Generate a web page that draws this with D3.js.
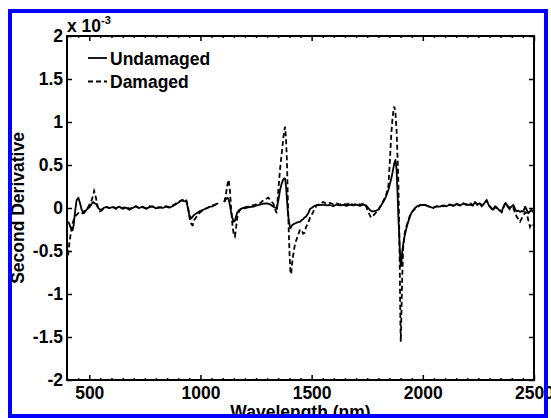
<!DOCTYPE html>
<html>
<head>
<meta charset="utf-8">
<script src="https://cdn.jsdelivr.net/npm/d3@7/dist/d3.min.js"></script>
<style>
  body { margin: 0; background: #fff; }
  svg { display: block; }
  text { font-family: "Liberation Sans", Arial, Helvetica, sans-serif; font-weight: bold; fill: #000; }
</style>
</head>
<body>
<svg id="chart" width="551" height="418"></svg>
<script>
// Second-derivative spectra (values in units of 1e-3), null marks the detector gap
const wavelength = [
  405,410,415,420,425,430,436,443,451,458,466,476,488,496,503,511,518,522,526,530,536,541,548,556,565,578,590,
  605,620,635,650,665,680,695,710,725,740,755,770,785,800,815,830,845,860,875,888,900,916,925,931,938,945,950,
  955,960,965,972,983,995,1013,1030,1043,1055,1068,1080,1093,1107,1112,1117,1122,1127,1132,1138,1144,1150,1155,
  1160,1166,1175,1190,1205,1220,1238,1253,1268,1283,1298,1305,1315,1328,1337,1343,1350,1358,1365,1372,1377,1381,
  1385,1389,1393,1397,1401,1405,1408,1412,1417,1425,1433,1440,1448,1455,1462,1468,1475,1485,1493,1500,1510,1523,
  1537,1552,1567,1582,1597,1612,1627,1642,1657,1672,1687,1702,1717,1732,1745,1755,1765,1772,1780,1790,1800,1812,
  1822,1834,1845,1852,1858,1863,1868,1872,1877,1882,1887,1890,1893,1896,1899,1901,1904,1907,1912,1918,1924,1933,
  1942,1950,1965,1975,1987,2002,2013,2030,2047,2062,2077,2092,2107,2122,2137,2152,2167,2182,2197,2212,2225,2235,
  2245,2255,2265,2275,2287,2297,2305,2315,2325,2335,2345,2355,2365,2372,2380,2392,2400,2407,2415,2422,2430,2437,
  2445,2452,2460,2467,2475,2482,2488,2495
];

const undamaged = [
  -0.16,-0.18,-0.22,-0.25,-0.26,-0.2,-0.05,0.09,0.12,0.06,-0.02,-0.06,-0.02,0.0,0.015,0.05,0.07,0.06,0.05,0.05,0.02,0.0,-0.02,-0.02,0.0,0.015,0.0,
  0.01,0.0,0.015,-0.01,0.005,-0.02,0.0,0.02,0.0,0.015,-0.01,0.01,0.02,-0.005,0.01,0.0,0.015,0.005,0.02,0.04,0.06,0.09,0.08,0.08,0.07,-0.02,-0.08,
  -0.11,-0.12,-0.1,-0.08,-0.06,-0.04,-0.02,0.0,0.015,0.02,0.04,0.055,null,0.07,0.09,0.11,0.12,0.1,0.04,-0.05,-0.12,-0.16,-0.15,
  -0.1,-0.05,-0.02,0.0,0.0,0.01,0.015,0.03,0.04,0.05,0.055,0.05,0.04,0.015,0.005,0.0,0.08,0.21,0.28,0.33,0.345,0.34,
  0.25,0.1,-0.04,-0.14,-0.2,-0.236,-0.22,-0.2,-0.19,-0.18,-0.17,-0.165,-0.16,-0.14,-0.13,-0.11,-0.1,-0.06,-0.01,0.0,0.02,0.035,
  0.035,0.04,0.03,0.035,0.02,0.04,0.03,0.035,0.025,0.04,0.03,0.04,0.025,0.04,0.03,0.0,-0.03,-0.04,-0.035,-0.03,-0.02,0.03,
  0.07,0.13,0.21,0.28,0.34,0.4,0.47,0.52,0.56,0.45,0.13,-0.1,-0.26,-0.45,-0.62,-0.68,-0.62,-0.52,-0.42,-0.33,-0.26,-0.17,
  -0.1,-0.05,0.0,0.02,0.035,0.035,0.035,0.015,0.0,0.02,0.015,0.03,0.02,0.04,0.025,0.045,0.03,0.05,0.035,0.04,0.03,0.07,
  0.04,0.055,0.03,0.05,0.09,0.03,0.01,-0.02,0.02,0.0,-0.03,-0.04,0.03,0.06,0.03,0.0,0.02,0.035,-0.01,-0.04,-0.03,-0.045,
  -0.035,-0.04,0.015,-0.02,-0.06,-0.04,-0.02,-0.05
];

const damaged = [
  -0.55,-0.42,-0.33,-0.25,-0.18,-0.14,-0.1,-0.08,-0.06,-0.07,-0.07,-0.04,-0.02,0.015,0.05,0.09,0.15,0.2,0.17,0.12,0.04,-0.01,-0.04,-0.03,0.0,0.01,0.0,
  0.02,-0.01,0.01,0.0,0.015,-0.01,0.005,0.02,-0.005,0.01,0.0,0.02,0.015,0.0,0.005,0.01,0.02,0.01,0.03,0.05,0.07,0.09,0.1,0.11,0.08,0.0,-0.1,
  -0.16,-0.19,-0.2,-0.14,-0.1,-0.06,-0.02,0.0,0.015,0.03,0.04,0.055,null,0.07,0.12,0.2,0.28,0.33,0.22,0.0,-0.2,-0.31,-0.33,
  -0.24,-0.1,-0.03,0.0,0.01,0.02,0.035,0.045,0.055,0.09,0.11,0.12,0.09,0.05,-0.02,-0.06,0.2,0.45,0.62,0.8,0.9,0.945,
  0.8,0.55,0.1,-0.25,-0.55,-0.75,-0.77,-0.65,-0.55,-0.42,-0.36,-0.31,-0.25,-0.26,-0.3,-0.29,-0.22,-0.17,-0.11,-0.08,-0.03,0.03,
  0.05,0.07,0.05,0.06,0.045,0.055,0.04,0.05,0.04,0.06,0.035,0.055,0.04,0.05,0.02,-0.05,-0.1,-0.11,-0.08,-0.05,-0.02,0.03,
  0.08,0.14,0.25,0.55,0.85,1.02,1.13,1.18,1.1,0.9,0.55,0.3,-0.1,-0.6,-1.3,-1.555,-1.2,-0.84,-0.45,-0.3,-0.23,-0.16,
  -0.09,-0.05,-0.01,0.01,0.03,0.035,0.03,0.015,0.005,0.02,0.025,0.02,0.035,0.04,0.03,0.05,0.03,0.055,0.04,0.06,0.03,0.07,
  0.035,0.06,0.02,0.05,0.09,0.03,0.005,-0.03,0.01,-0.01,-0.02,-0.05,0.02,0.055,0.02,-0.02,-0.01,0.0,-0.06,-0.1,-0.13,-0.16,
  -0.12,-0.09,-0.05,-0.06,-0.15,-0.22,-0.18,-0.2
];

const seriesNames = ["Undamaged", "Damaged"];
const xTicks = [500, 1000, 1500, 2000, 2500];
const xMinorTicks = d3.range(400, 2501, 50).filter(v => v % 500 !== 0);
const yTicks = [-2, -1.5, -1, -0.5, 0, 0.5, 1, 1.5, 2];

const svg = d3.select("#chart");
const plot = { left: 67, right: 534, top: 36, bottom: 380 };

const x = d3.scaleLinear().domain([400, 2500]).range([plot.left, plot.right]);
const y = d3.scaleLinear().domain([-2, 2]).range([plot.bottom, plot.top]);

const FONT = 17.5;

// ticks on all four sides, pointing inward
function styleAxis(g) {
  g.select(".domain").remove();
  g.selectAll(".tick line").attr("stroke", "#000").attr("stroke-width", 1.5);
}

svg.append("g")
  .attr("transform", `translate(0,${plot.bottom})`)
  .call(d3.axisBottom(x).tickValues(xTicks).tickSizeInner(-5).tickSizeOuter(0).tickPadding(7).tickFormat(d3.format("d")))
  .call(styleAxis)
  .call(g => g.selectAll("text").attr("font-size", FONT).attr("font-family", null));

svg.append("g")
  .attr("transform", `translate(0,${plot.bottom})`)
  .call(d3.axisBottom(x).tickValues(xMinorTicks).tickSizeInner(-2).tickSizeOuter(0).tickFormat(""))
  .call(styleAxis);

svg.append("g")
  .attr("transform", `translate(0,${plot.top})`)
  .call(d3.axisTop(x).tickValues(xTicks).tickSizeInner(-5).tickSizeOuter(0).tickFormat(""))
  .call(styleAxis);

svg.append("g")
  .attr("transform", `translate(0,${plot.top})`)
  .call(d3.axisTop(x).tickValues(xMinorTicks).tickSizeInner(-2).tickSizeOuter(0).tickFormat(""))
  .call(styleAxis);

svg.append("g")
  .attr("transform", `translate(${plot.left},0)`)
  .call(d3.axisLeft(y).tickValues(yTicks).tickSizeInner(-5).tickSizeOuter(0).tickPadding(4).tickFormat(d => String(d)))
  .call(styleAxis)
  .call(g => g.selectAll("text").attr("font-size", FONT).attr("font-family", null));

svg.append("g")
  .attr("transform", `translate(${plot.right},0)`)
  .call(d3.axisRight(y).tickValues(yTicks).tickSizeInner(-5).tickSizeOuter(0).tickFormat(""))
  .call(styleAxis);

// spectra
const rows = wavelength.map((w, i) => ({ w, u: undamaged[i], d: damaged[i] }));
const lineOf = key => d3.line()
  .defined(r => r[key] != null)
  .x(r => x(r.w))
  .y(r => y(r[key]));

svg.append("path")
  .datum(rows)
  .attr("fill", "none")
  .attr("stroke", "#000")
  .attr("stroke-width", 1.8)
  .attr("stroke-linejoin", "round")
  .attr("d", lineOf("u"));

svg.append("path")
  .datum(rows)
  .attr("fill", "none")
  .attr("stroke", "#000")
  .attr("stroke-width", 1.8)
  .attr("stroke-dasharray", "5,3")
  .attr("d", lineOf("d"));

// axes box
svg.append("rect")
  .attr("x", plot.left).attr("y", plot.top)
  .attr("width", plot.right - plot.left).attr("height", plot.bottom - plot.top)
  .attr("fill", "none").attr("stroke", "#000").attr("stroke-width", 2);

// exponent label
const expo = svg.append("text").attr("x", plot.left).attr("y", 32).attr("font-size", FONT);
expo.append("tspan").text("x 10");
expo.append("tspan").attr("dy", -8).attr("font-size", 11).text("-3");

// legend
const legendRows = [
  { name: seriesNames[0], dash: null, y: 58 },
  { name: seriesNames[1], dash: "5,3", y: 81.5 }
];
legendRows.forEach(r => {
  svg.append("line")
    .attr("x1", 88).attr("x2", 107).attr("y1", r.y).attr("y2", r.y)
    .attr("stroke", "#000").attr("stroke-width", 1.8)
    .attr("stroke-dasharray", r.dash);
  svg.append("text")
    .attr("x", 110).attr("y", r.y + 6.5)
    .attr("font-size", FONT)
    .text(r.name);
});

// axis titles
svg.append("text")
  .attr("transform", `translate(24,${(plot.top + plot.bottom) / 2}) rotate(-90)`)
  .attr("text-anchor", "middle")
  .attr("font-size", FONT)
  .text("Second Derivative");

svg.append("text")
  .attr("x", (plot.left + plot.right) / 2)
  .attr("y", 417.5)
  .attr("text-anchor", "middle")
  .attr("font-size", FONT)
  .text("Wavelength (nm)");

// outer frame
svg.append("rect")
  .attr("x", 10).attr("y", 11)
  .attr("width", 536).attr("height", 405)
  .attr("fill", "none")
  .attr("stroke", "#0000ff")
  .attr("stroke-width", 4);
</script>
</body>
</html>
